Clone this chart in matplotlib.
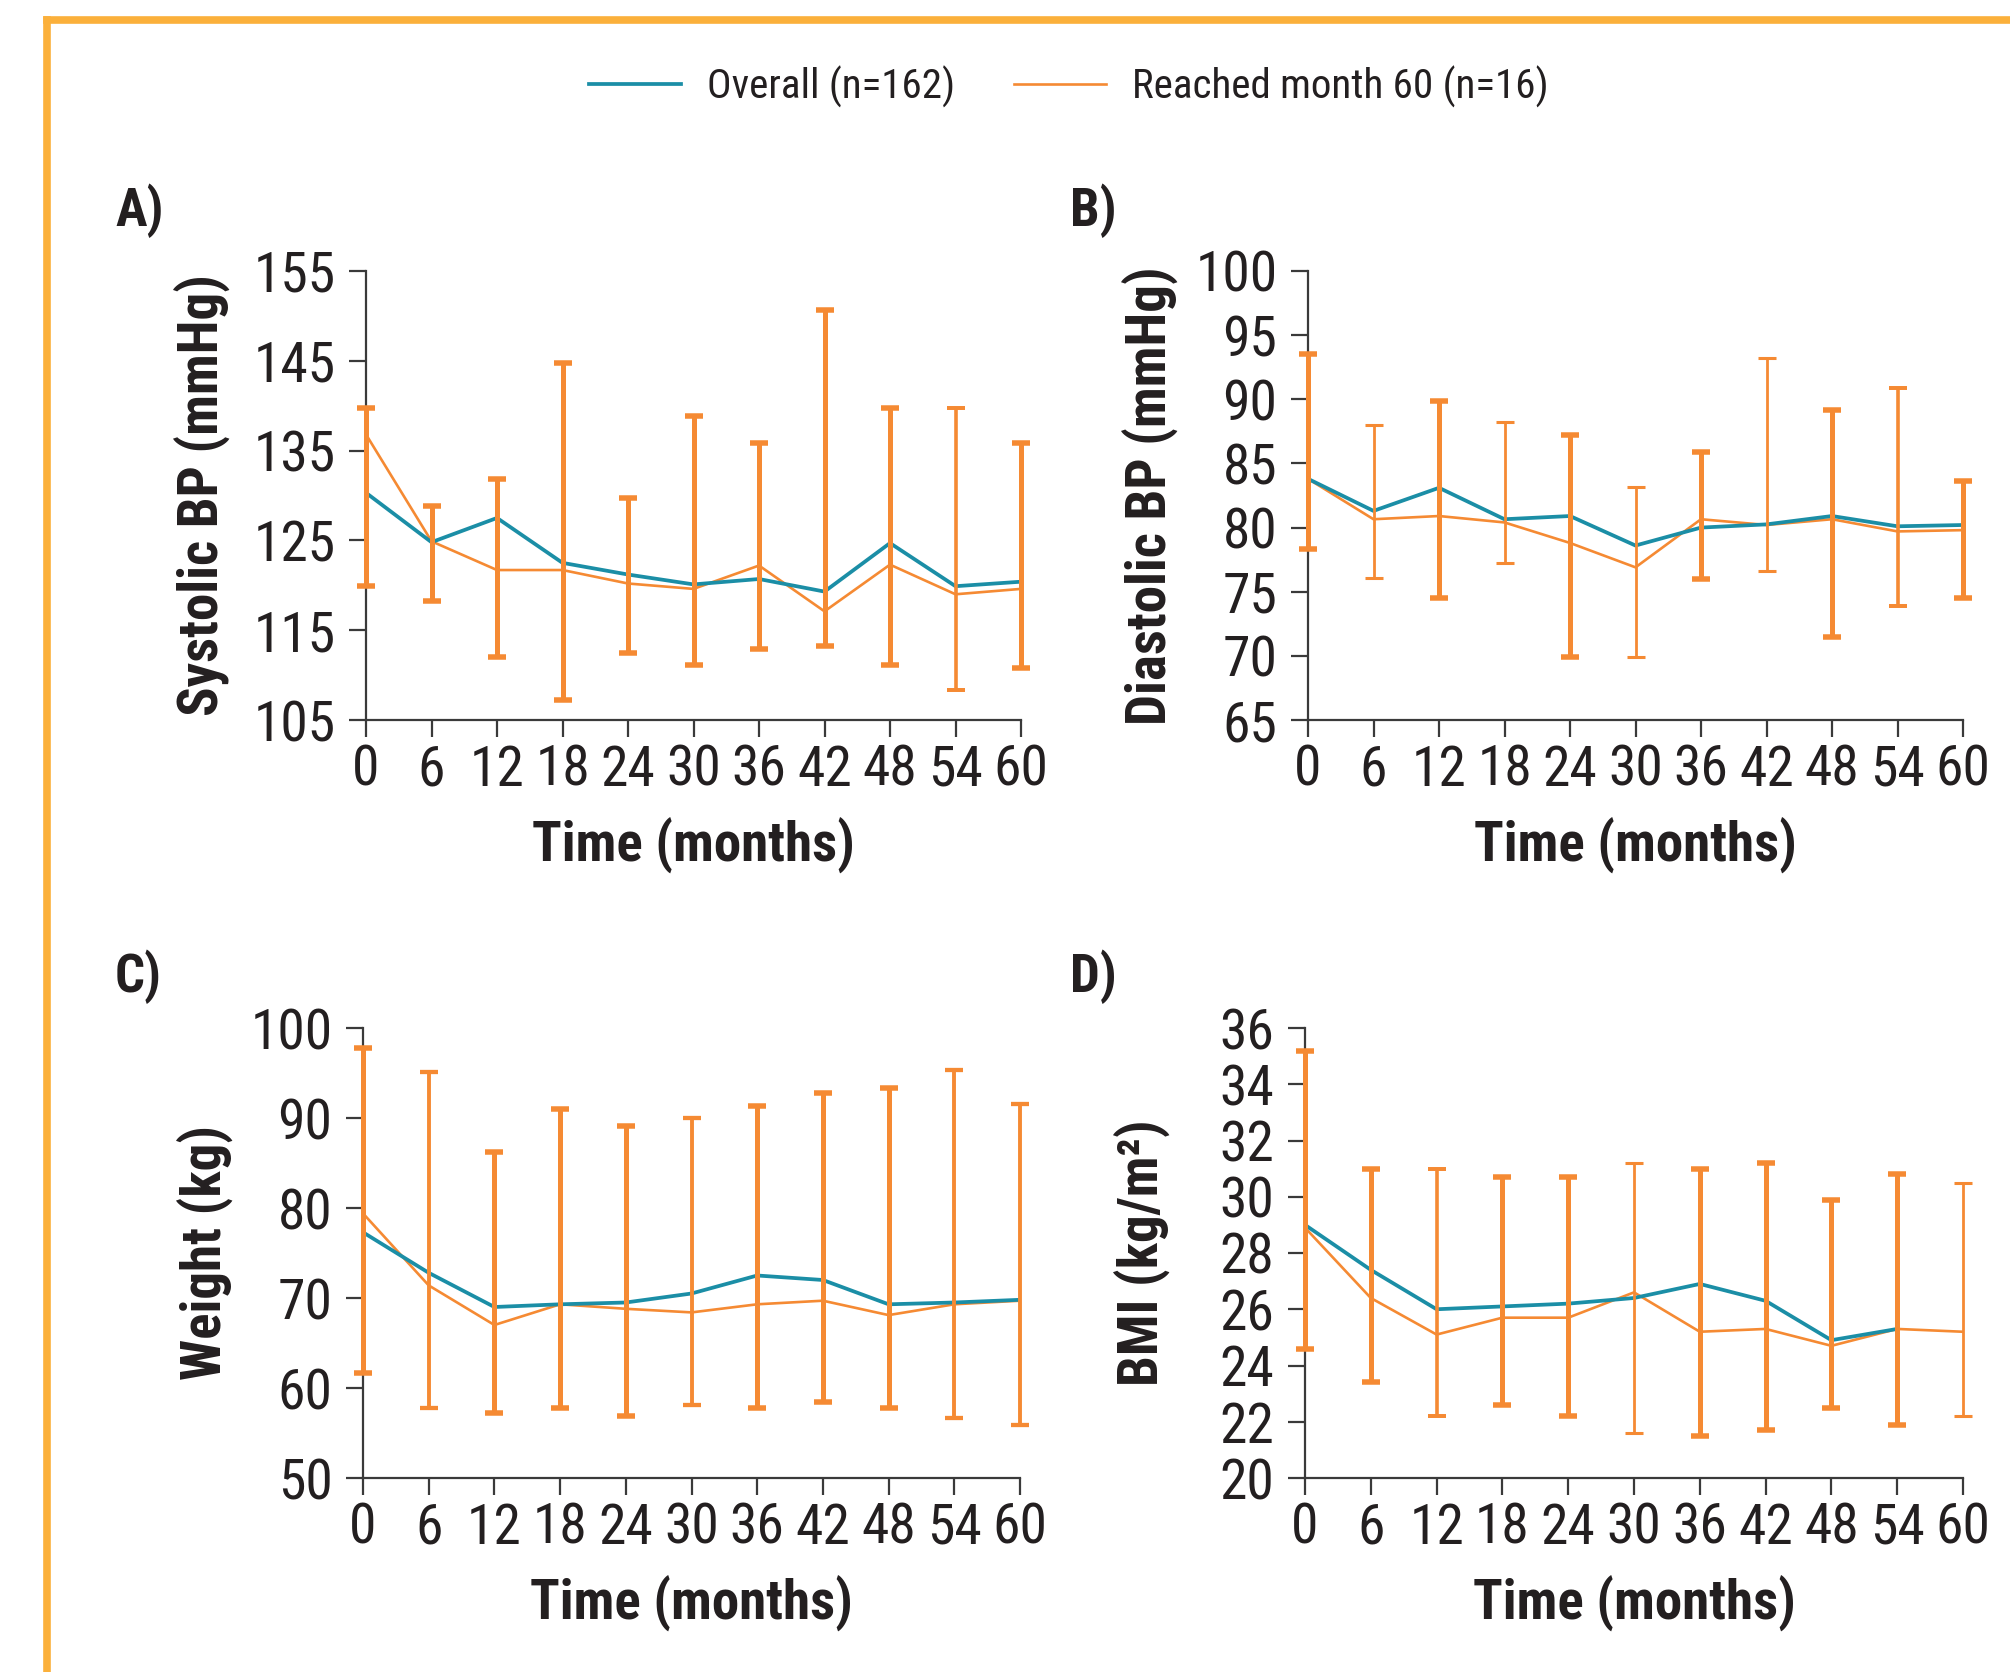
import os
import numpy as np
import matplotlib
matplotlib.use('Agg')
import matplotlib.pyplot as plt
from matplotlib.lines import Line2D
from matplotlib import font_manager as fm

# ---------------- data ----------------
months = [0, 6, 12, 18, 24, 30, 36, 42, 48, 54, 60]

# A) Systolic BP (mmHg)
sbp_overall = [130.3, 124.8, 127.5, 122.5, 121.2, 120.1, 120.7, 119.3, 124.7, 119.9, 120.4]
sbp_m60 = [136.8, 124.9, 121.7, 121.7, 120.2, 119.6, 122.2, 117.1, 122.3, 119.0, 119.6]
sbp_m60_low = [119.9, 118.2, 112.0, 107.2, 112.5, 111.1, 112.9, 113.2, 111.1, 108.3, 110.8]
sbp_m60_high = [139.7, 128.8, 131.8, 144.8, 129.7, 138.9, 135.9, 150.7, 139.7, 139.7, 135.9]

# B) Diastolic BP (mmHg)
dbp_overall = [83.8, 81.3, 83.1, 80.65, 80.9, 78.6, 80.0, 80.25, 80.9, 80.1, 80.2]
dbp_m60 = [83.8, 80.65, 80.9, 80.4, 78.8, 76.9, 80.65, 80.2, 80.65, 79.7, 79.8]
dbp_m60_low = [78.3, 76.1, 74.5, 77.2, 69.9, 69.9, 76.0, 76.6, 71.5, 73.9, 74.5]
dbp_m60_high = [93.5, 88.0, 89.9, 88.2, 87.2, 83.2, 85.9, 93.2, 89.2, 90.9, 83.6]

# C) Weight (kg)
wt_overall = [77.3, 72.8, 69.0, 69.3, 69.5, 70.5, 72.5, 72.0, 69.3, 69.5, 69.8]
wt_m60 = [79.4, 71.4, 67.0, 69.3, 68.8, 68.4, 69.3, 69.7, 68.1, 69.3, 69.7]
wt_m60_low = [61.7, 57.8, 57.2, 57.8, 56.9, 58.1, 57.8, 58.4, 57.8, 56.7, 55.9]
wt_m60_high = [97.8, 95.1, 86.2, 91.0, 89.1, 90.0, 91.3, 92.8, 93.3, 95.3, 91.6]

# D) BMI (kg/m2)
bmi_overall = [29.0, 27.4, 26.0, 26.1, 26.2, 26.4, 26.9, 26.3, 24.9, 25.3, np.nan]
bmi_m60 = [28.9, 26.4, 25.1, 25.7, 25.7, 26.6, 25.2, 25.3, 24.7, 25.3, 25.2]
bmi_m60_low = [24.6, 23.4, 22.2, 22.6, 22.2, 21.6, 21.5, 21.7, 22.5, 21.9, 22.2]
bmi_m60_high = [35.2, 31.0, 31.0, 30.7, 30.7, 31.2, 31.0, 31.2, 29.9, 30.8, 30.5]

# tick labels
sbp_ticks = [105, 115, 125, 135, 145, 155]
dbp_ticks = [65, 70, 75, 80, 85, 90, 95, 100]
wt_ticks = [50, 60, 70, 80, 90, 100]
bmi_ticks = [20, 22, 24, 26, 28, 30, 32, 34, 36]

panel_letters = ['A)', 'B)', 'C)', 'D)']
ylabels = ['Systolic BP (mmHg)', 'Diastolic BP (mmHg)', 'Weight (kg)', 'BMI (kg/m²)']
xlabel = 'Time (months)'
legend_labels = ['Overall (n=162)', 'Reached month 60 (n=16)']

# ---------------- fonts: look for a condensed sans face ----------------
def find_condensed():
    reg, bold = None, None
    prefs = ['liberationsansnarrow', 'robotocondensed', 'opensanscondensed',
             'notosanscondensed', 'notosans-condensed', 'dejavusanscondensed',
             'latocondensed', 'condensed', 'narrow']
    files = sorted(set(f.fname for f in fm.fontManager.ttflist))
    for key in prefs:
        for fn in files:
            base = os.path.basename(fn).lower().replace('_', '').replace(' ', '')
            if key not in base:
                continue
            if 'italic' in base or 'oblique' in base:
                continue
            if ('semi' in base or 'extra' in base or 'ultra' in base) and key in ('condensed',):
                continue
            if 'bold' in base and 'semibold' not in base and 'extrabold' not in base:
                if bold is None:
                    bold = fn
            elif ('regular' in base or base.endswith(key + '.ttf') or
                  base.endswith(key + '.otf')) and 'light' not in base and 'medium' not in base \
                    and 'thin' not in base and 'black' not in base:
                if reg is None:
                    reg = fn
        if reg and bold:
            return reg, bold
        reg, bold = None, None
    return None, None

reg_file, bold_file = find_condensed()
plt.rcParams['font.family'] = ['Liberation Sans', 'DejaVu Sans']
if reg_file:
    FP_REG = fm.FontProperties(fname=reg_file)
    FP_BOLD = fm.FontProperties(fname=bold_file)
    TICK_FS, LAB_FS, LET_FS, LEG_FS = 40, 39.5, 38, 29.5
else:
    FP_REG = fm.FontProperties(family=['Liberation Sans', 'DejaVu Sans'])
    FP_BOLD = fm.FontProperties(family=['Liberation Sans', 'DejaVu Sans'], weight='bold')
    TICK_FS, LAB_FS, LET_FS, LEG_FS = 32, 34, 36, 26

def fp(base, size):
    p = base.copy()
    p.set_size(size)
    return p

BLUE = '#1b8ea6'
ORANGE = '#f58a33'
BORDER = '#fbb03b'
TXT = '#231f20'
AXC = '#3a3a3a'

W, H = 2010, 1672
fig = plt.figure(figsize=(W / 100, H / 100), dpi=100)
fig.patch.set_facecolor('white')

def fx(px):
    return px / W

def fy(py):
    return 1 - py / H

boxes = [
    (366, 271, 1021, 720),
    (1308, 271, 1963, 720),
    (363, 1028, 1020, 1478),
    (1305, 1028, 1963, 1478),
]
ylims = [(105, 155), (65, 100), (50, 100), (20, 36)]
yticks_all = [sbp_ticks, dbp_ticks, wt_ticks, bmi_ticks]
overall_all = [sbp_overall, dbp_overall, wt_overall, bmi_overall]
m60_all = [sbp_m60, dbp_m60, wt_m60, bmi_m60]
low_all = [sbp_m60_low, dbp_m60_low, wt_m60_low, bmi_m60_low]
high_all = [sbp_m60_high, dbp_m60_high, wt_m60_high, bmi_m60_high]
ylabel_xpx = [202, 1150, 205, 1142]
letter_pos = [(115, 211), (1070, 211), (115, 977), (1070, 977)]

bar_lw = [
    [3.6, 3.6, 3.6, 3.6, 3.6, 3.6, 3.6, 3.6, 3.6, 2.6, 3.6],
    [3.6, 2.0, 3.6, 2.0, 3.6, 2.0, 3.6, 2.0, 3.6, 2.6, 3.6],
    [3.6, 2.8, 3.6, 3.6, 3.6, 2.8, 3.6, 3.6, 3.6, 2.8, 2.8],
    [3.6, 3.6, 2.6, 3.6, 3.6, 2.0, 3.6, 3.6, 3.6, 3.6, 2.0],
]

for i in range(4):
    l, t, r, b = boxes[i]
    ax = fig.add_axes([fx(l), fy(b), fx(r - l), (b - t) / H])
    x = np.array(months, dtype=float)
    ov = np.array(overall_all[i], dtype=float)
    m6 = np.array(m60_all[i], dtype=float)
    lo = np.array(low_all[i], dtype=float)
    hi = np.array(high_all[i], dtype=float)

    ax.plot(x, ov, color=BLUE, lw=2.7, zorder=3)
    ax.plot(x, m6, color=ORANGE, lw=1.9, zorder=2.5)
    for j in range(len(x)):
        ax.errorbar([x[j]], [m6[j]], yerr=[[m6[j] - lo[j]], [hi[j] - m6[j]]],
                    fmt='none', ecolor=ORANGE, elinewidth=bar_lw[i][j],
                    capsize=6.5, capthick=bar_lw[i][j] * 1.1, zorder=4, clip_on=False)

    ax.set_xlim(0, 60)
    ax.set_ylim(*ylims[i])
    ax.set_xticks(months)
    ax.set_yticks(yticks_all[i])
    ax.set_xticklabels([str(m) for m in months])
    ax.set_yticklabels([str(v) for v in yticks_all[i]])
    for lab in ax.get_xticklabels() + ax.get_yticklabels():
        lab.set_fontproperties(fp(FP_REG, TICK_FS))
        lab.set_color(TXT)
    for s in ['top', 'right']:
        ax.spines[s].set_visible(False)
    for s in ['left', 'bottom']:
        ax.spines[s].set_color(AXC)
        ax.spines[s].set_linewidth(1.6)
    ax.tick_params(axis='both', direction='out', length=12, width=1.6, color=AXC)
    ax.tick_params(axis='y', pad=10)
    ax.tick_params(axis='x', pad=5)
    ax.set_facecolor('none')

    ax.set_xlabel(xlabel, fontproperties=fp(FP_BOLD, LAB_FS), color=TXT)
    ax.xaxis.label.set_va('center')
    ax.xaxis.set_label_coords(0.5, -125 / (b - t))
    ax.set_ylabel(ylabels[i], fontproperties=fp(FP_BOLD, LAB_FS), color=TXT)
    ax.yaxis.label.set_va('center')
    ax.yaxis.set_label_coords((ylabel_xpx[i] - l) / (r - l), 0.5)

    lx, ly = letter_pos[i]
    fig.text(fx(lx), fy(ly), panel_letters[i], fontproperties=fp(FP_BOLD, LET_FS),
             color=TXT, ha='left', va='center')

handles = [Line2D([], [], color=BLUE, lw=2.7), Line2D([], [], color=ORANGE, lw=1.9)]
leg = fig.legend(handles, legend_labels, loc='center', bbox_to_anchor=(fx(1069), fy(87)),
                 ncol=2, frameon=False, prop=fp(FP_REG, LEG_FS),
                 handlelength=66 / LEG_FS, handletextpad=19 / LEG_FS,
                 columnspacing=42 / LEG_FS)
for txt in leg.get_texts():
    txt.set_color(TXT)

fig.add_artist(Line2D([fx(47), 1.02], [fy(20), fy(20)], color=BORDER, lw=5.5,
                      transform=fig.transFigure, solid_capstyle='projecting'))
fig.add_artist(Line2D([fx(47), fx(47)], [fy(20), -0.02], color=BORDER, lw=5.5,
                      transform=fig.transFigure, solid_capstyle='projecting'))

fig.savefig('out.png', dpi=100, facecolor='white')
